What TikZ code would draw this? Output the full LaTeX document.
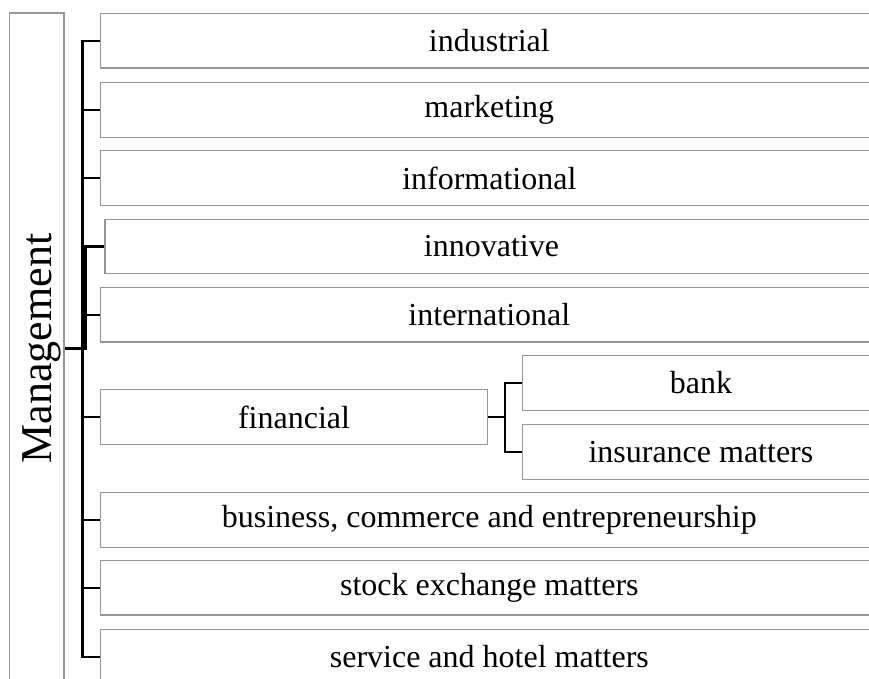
\documentclass[tikz,border=0pt]{standalone}
\usepackage{fontspec}
\setmainfont{Liberation Serif}
\definecolor{boxgray}{RGB}{150,150,150}
\tikzset{
  box/.style={draw=boxgray, line width=1.1pt, inner sep=0pt, minimum height=54.5pt,
    font=\fontsize{32}{37}\selectfont},
  wide/.style={box, minimum width=777.3pt},
  conn/.style={draw=black, line width=2.3pt},
}
\begin{document}
\begin{tikzpicture}[x=1pt,y=-1pt]
\useasboundingbox (0,0) rectangle (869,679);
\clip (0,0) rectangle (869,679);
\coordinate (tr) at (82.5,0);
\coordinate (st) at (505,0);
% Management
\node (mg) [draw=boxgray, line width=1.1pt, inner sep=0pt, minimum width=54.5pt, minimum height=671pt] at (36.75,348.5) {};
\node (mglabel) [rotate=90, anchor=base, inner sep=0pt, font=\fontsize{44}{50}\selectfont] at (51,348.5) {Management};
% top-level boxes
\node (b1) [wide] at (489.35,40.75) {industrial};
\node (b2) [wide] at (489.35,110) {marketing};
\node (b3) [wide] at (489.35,178) {informational};
\node (b4) [box, minimum width=773pt] at (491.5,246.4) {innovative};
\node (b5) [wide] at (489.35,314.7) {international};
\node (b6) [box, minimum width=386.6pt] at (294,416.9) {financial};
\node (bank) [box, minimum width=356.3pt] at (700.9,382.9) {bank};
\node (ins) [box, minimum width=356.3pt] at (700.9,451.9) {insurance matters};
\node (b7) [wide] at (489.35,519.9) {business, commerce and entrepreneurship};
\node (b8) [wide] at (489.35,587.7) {stock exchange matters};
\node (b9) [wide] at (489.35,657) {service and hotel matters};
% trunk
\draw[conn] (b1.west) -- (b1.west -| tr) -- (b9.west -| tr) -- (b9.west);
\foreach \b in {b2,b3,b4,b5,b6,b7,b8}
  \draw[conn] (\b.west -| tr) -- (\b.west);
% management connector
\draw[conn] (mg.east) -- ++(21,0) |- (b4.west);
% financial sub-tree
\draw[conn] (b6.east) -- (b6.east -| st);
\draw[conn] (bank.west) -- (bank.west -| st) -- (ins.west -| st) -- (ins.west);
\end{tikzpicture}
\end{document}
